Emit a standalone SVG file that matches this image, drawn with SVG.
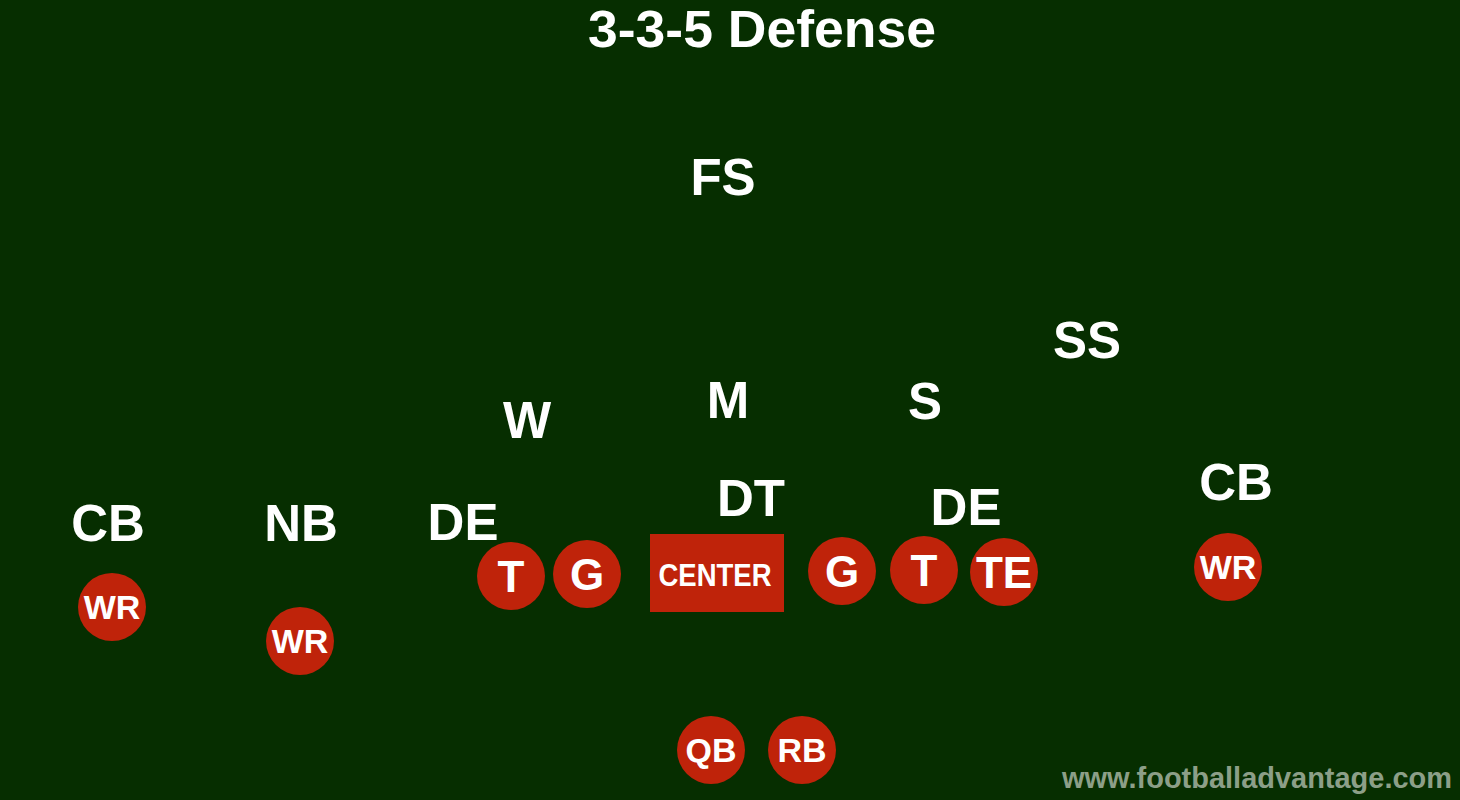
<svg xmlns="http://www.w3.org/2000/svg" width="1460" height="800" viewBox="0 0 1460 800">
<style>
.bg{fill:#062e00}
.p{fill:#bf230a}
.d{fill:#ffffff;font-family:"Liberation Sans",Arial,sans-serif;font-weight:bold;font-size:51px;text-anchor:middle}
.o{fill:#ffffff;font-family:"Liberation Sans",Arial,sans-serif;font-weight:bold;text-anchor:middle}
.big{font-size:44px}
.sm{font-size:34px}
.wm{fill:#8c9f88;font-family:"Liberation Sans",Arial,sans-serif;font-weight:bold;font-size:29px}
</style>
<rect class="bg" x="0" y="0" width="1460" height="800"/>
<text id="title" class="d" x="762" y="47" font-size="54" textLength="348" lengthAdjust="spacingAndGlyphs">3-3-5 Defense</text>
<g id="defense">
<text id="FS" class="d" x="723" y="195">FS</text>
<text id="SS" class="d" x="1087" y="358">SS</text>
<text id="W" class="d" x="527" y="438">W</text>
<text id="M" class="d" x="728" y="418">M</text>
<text id="S" class="d" x="925" y="419">S</text>
<text id="DT" class="d" x="751" y="516">DT</text>
<text id="DE-right" class="d" x="966" y="525">DE</text>
<text id="CB-right" class="d" x="1236" y="500">CB</text>
<text id="CB-left" class="d" x="108" y="541">CB</text>
<text id="NB" class="d" x="301" y="541">NB</text>
<text id="DE-left" class="d" x="463" y="540">DE</text>
</g>
<g id="T-left"><circle class="p" cx="511" cy="576" r="34"/><text class="o big" x="511" y="592">T</text></g>
<g id="G-left"><circle class="p" cx="587" cy="574" r="34"/><text class="o big" x="587" y="590">G</text></g>
<g id="center"><rect class="p" x="650" y="534" width="134" height="78"/><text class="o" x="715" y="586" font-size="31" textLength="113" lengthAdjust="spacingAndGlyphs">CENTER</text></g>
<g id="G-right"><circle class="p" cx="842" cy="571" r="34"/><text class="o big" x="842" y="587">G</text></g>
<g id="T-right"><circle class="p" cx="924" cy="570" r="34"/><text class="o big" x="924" y="586">T</text></g>
<g id="TE"><circle class="p" cx="1004" cy="572" r="34"/><text class="o big" x="1004" y="588">TE</text></g>
<g id="WR-right"><circle class="p" cx="1228" cy="567" r="34"/><text class="o sm" x="1228" y="579">WR</text></g>
<g id="WR-left1"><circle class="p" cx="112" cy="607" r="34"/><text class="o sm" x="112" y="619">WR</text></g>
<g id="WR-left2"><circle class="p" cx="300" cy="641" r="34"/><text class="o sm" x="300" y="653">WR</text></g>
<g id="QB"><circle class="p" cx="711" cy="750" r="34"/><text class="o sm" x="711" y="762">QB</text></g>
<g id="RB"><circle class="p" cx="802" cy="750" r="34"/><text class="o sm" x="802" y="762">RB</text></g>
<g id="connectors"></g>
<text id="watermark" class="wm" x="1062" y="788" textLength="390" lengthAdjust="spacingAndGlyphs">www.footballadvantage.com</text>
</svg>
